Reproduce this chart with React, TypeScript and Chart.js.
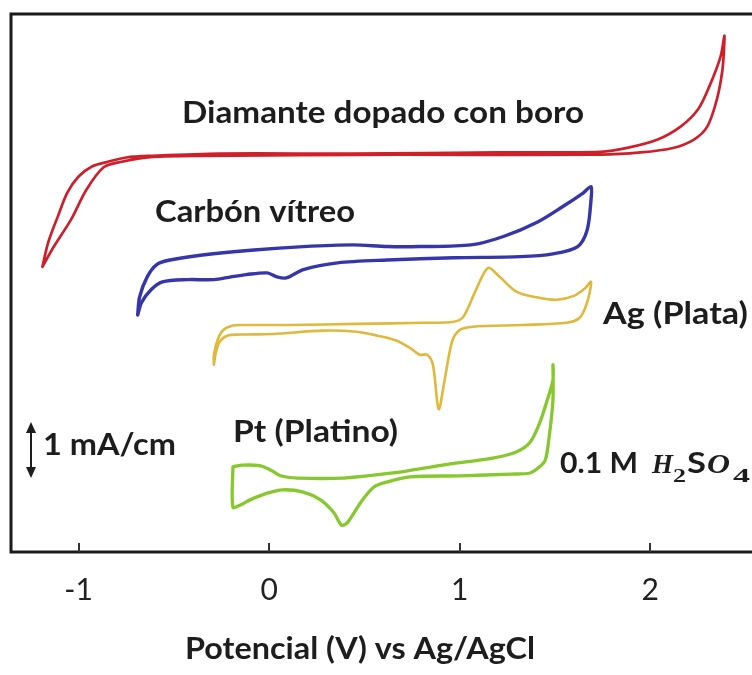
import React, { useEffect, useRef } from "react";
import { Chart, registerables } from "chart.js";

Chart.register(...registerables);

const WIDTH = 752;
const HEIGHT = 675;

// Potential in V vs Ag/AgCl, current in mA/cm; every loop carries its own vertical offset.
const bddPotential = [-1.19, -1.16, -1.11, -1.06, -1.0, -0.93, -0.85, -0.75, -0.61, -0.26, 0.43, 1.21, 1.74, 1.88, 2.04, 2.16, 2.25, 2.31, 2.37, 2.39, 2.39, 2.38, 2.35, 2.3, 2.23, 2.12, 1.95, 1.74, 0.69, -0.36, -0.61, -0.78, -0.87, -0.96, -1.04, -1.13, -1.19];
const bddCurrent = [5.09, 5.52, 5.98, 6.41, 6.7, 6.88, 6.96, 7.04, 7.07, 7.11, 7.11, 7.13, 7.14, 7.21, 7.36, 7.59, 7.89, 8.3, 8.84, 9.21, 9.11, 8.61, 8.07, 7.59, 7.36, 7.21, 7.13, 7.09, 7.09, 7.07, 7.05, 6.96, 6.86, 6.46, 5.93, 5.45, 5.09];

const gcPotential = [-0.69, -0.68, -0.64, -0.59, -0.52, -0.35, -0.08, 0.18, 0.44, 0.62, 0.79, 1.06, 1.23, 1.41, 1.54, 1.65, 1.69, 1.69, 1.67, 1.62, 1.49, 1.32, 0.97, 0.62, 0.36, 0.18, 0.09, 0.04, -0.01, -0.12, -0.2, -0.29, -0.43, -0.56, -0.62, -0.67, -0.69];
const gcCurrent = [4.23, 4.55, 4.91, 5.13, 5.21, 5.3, 5.39, 5.45, 5.48, 5.45, 5.45, 5.48, 5.63, 5.89, 6.16, 6.41, 6.52, 6.29, 5.75, 5.45, 5.32, 5.27, 5.25, 5.21, 5.16, 5.04, 4.89, 4.91, 4.98, 4.95, 4.91, 4.86, 4.86, 4.82, 4.68, 4.45, 4.23];

const agPotential = [-0.29, -0.29, -0.27, -0.24, -0.19, -0.14, 0.11, 0.46, 0.81, 0.97, 1.02, 1.09, 1.15, 1.21, 1.3, 1.41, 1.51, 1.6, 1.66, 1.69, 1.67, 1.63, 1.56, 1.33, 1.07, 1.0, 0.96, 0.92, 0.89, 0.86, 0.83, 0.79, 0.74, 0.67, 0.57, 0.46, 0.28, 0.02, -0.15, -0.22, -0.26, -0.28, -0.29];
const agCurrent = [3.34, 3.52, 3.79, 3.96, 4.04, 4.05, 4.05, 4.07, 4.09, 4.11, 4.2, 4.71, 5.07, 4.91, 4.64, 4.54, 4.5, 4.57, 4.71, 4.82, 4.46, 4.18, 4.09, 4.05, 4.02, 3.96, 3.75, 3.04, 2.55, 3.34, 3.52, 3.52, 3.64, 3.77, 3.86, 3.93, 3.95, 3.89, 3.88, 3.86, 3.75, 3.55, 3.34];

const ptPotential = [-0.19, -0.14, -0.05, 0.01, 0.06, 0.15, 0.39, 0.65, 0.91, 1.18, 1.3, 1.37, 1.42, 1.46, 1.49, 1.49, 1.49, 1.47, 1.45, 1.42, 1.37, 1.27, 1.0, 0.74, 0.62, 0.55, 0.48, 0.41, 0.38, 0.34, 0.27, 0.18, 0.07, -0.01, -0.1, -0.15, -0.19, -0.19];
const ptCurrent = [1.52, 1.55, 1.54, 1.46, 1.36, 1.32, 1.32, 1.41, 1.55, 1.68, 1.79, 1.96, 2.3, 2.71, 3.07, 3.34, 2.71, 2.05, 1.64, 1.52, 1.41, 1.39, 1.36, 1.34, 1.25, 1.16, 0.88, 0.52, 0.48, 0.7, 0.93, 1.07, 1.11, 1.05, 0.93, 0.84, 0.8, 1.52];

const seriesNames = ["Diamante dopado con boro", "Carbón vítreo", "Ag (Plata)", "Pt (Platino)"];
const potentialTicks = [-1, 0, 1, 2];
const axisTitle = "Potencial (V) vs Ag/AgCl";
const scaleBarLabel = "1 mA/cm";
const electrolyteLabel = "0.1 M";

// axis ranges
const X_MIN = -1.355;
const X_MAX = 2.535;
const Y_MIN = 0;
const Y_MAX = 9.6;
const SCALE_BAR_BASE = 1.32; // current where the 1 mA/cm bar starts

const PAD_LEFT = 11;
const PAD_TOP = 14;
const PLOT_BOTTOM = 552;

const SANS = "Lato, 'Open Sans', sans-serif";
const SERIF = "'Liberation Serif', 'DejaVu Serif', serif";
const LATO_CAP = 0.7165;
const SERIF_CAP = 0.662;
const INK = "#1d1d1d";

const series = [
  { name: seriesNames[0], potential: bddPotential, current: bddCurrent, color: "#cf1f2b", width: 2.7 },
  { name: seriesNames[1], potential: gcPotential, current: gcCurrent, color: "#3636aa", width: 3.4 },
  { name: seriesNames[2], potential: agPotential, current: agCurrent, color: "#dfb83c", width: 2.6 },
  { name: seriesNames[3], potential: ptPotential, current: ptCurrent, color: "#86c82e", width: 3.3 },
];

type TextSpec = {
  text: string;
  left: number;
  baseline: number;
  width: number;
  cap: number;
  style: string;
  family: string;
  capRatio: number;
};

const bold = (text: string, left: number, baseline: number, width: number, cap = 22): TextSpec => ({
  text, left, baseline, width, cap, style: "bold", family: SANS, capRatio: LATO_CAP,
});

const mathItalic = (text: string, left: number, baseline: number, width: number, cap: number): TextSpec => ({
  text, left, baseline, width, cap, style: "italic bold", family: SERIF, capRatio: SERIF_CAP,
});

const annotations: TextSpec[] = [
  bold(seriesNames[0], 182, 123, 402),
  bold(seriesNames[1], 155, 222, 200),
  bold(seriesNames[2], 603, 324, 145),
  bold(seriesNames[3], 233, 442, 165),
  bold(scaleBarLabel, 43, 455, 133),
  bold(electrolyteLabel, 560, 473, 78, 21),
  bold(axisTitle, 185, 659, 350),
  // H2SO4 in math italic
  mathItalic("H", 652, 473, 21, 18),
  { text: "2", left: 673, baseline: 482, width: 13, cap: 13, style: "bold", family: SERIF, capRatio: SERIF_CAP },
  bold("S", 687, 473, 19, 20),
  mathItalic("O", 707, 473, 23, 18),
  { text: "4", left: 733, baseline: 482, width: 17, cap: 13, style: "bold", family: SERIF, capRatio: SERIF_CAP },
];

function drawFitted(ctx: CanvasRenderingContext2D, s: TextSpec) {
  const size = s.cap / s.capRatio;
  ctx.font = `${s.style} ${size}px ${s.family}`;
  const natural = ctx.measureText(s.text).width || 1;
  ctx.save();
  ctx.translate(s.left, s.baseline);
  ctx.scale(s.width / natural, 1);
  ctx.textAlign = "left";
  ctx.textBaseline = "alphabetic";
  ctx.fillStyle = INK;
  ctx.fillText(s.text, 0, 0);
  ctx.restore();
}

const framePlugin = {
  id: "frameAndNotes",
  afterDatasetsDraw(chart: any) {
    const { ctx, chartArea } = chart;
    const xs = chart.scales.x;
    ctx.save();
    // open frame: top, left and bottom edges
    ctx.strokeStyle = "#1b1b1b";
    ctx.lineWidth = 3;
    ctx.lineJoin = "miter";
    ctx.beginPath();
    ctx.moveTo(chartArea.right, chartArea.top);
    ctx.lineTo(chartArea.left, chartArea.top);
    ctx.lineTo(chartArea.left, chartArea.bottom);
    ctx.lineTo(chartArea.right, chartArea.bottom);
    ctx.stroke();
    // inward tick marks
    ctx.lineWidth = 2;
    ctx.strokeStyle = "#333";
    xs.ticks.forEach((t: any) => {
      const px = Math.round(xs.getPixelForValue(t.value));
      ctx.beginPath();
      ctx.moveTo(px, chartArea.bottom);
      ctx.lineTo(px, chartArea.bottom - 9);
      ctx.stroke();
    });
    ctx.restore();
  },
  afterDraw(chart: any) {
    const { ctx } = chart;
    const ys = chart.scales.y;
    ctx.save();
    // 1 mA/cm scale bar
    const bx = 31;
    const yTop = ys.getPixelForValue(SCALE_BAR_BASE + 1);
    const yBot = ys.getPixelForValue(SCALE_BAR_BASE);
    const head = 11;
    ctx.strokeStyle = INK;
    ctx.fillStyle = INK;
    ctx.lineWidth = 2;
    ctx.beginPath();
    ctx.moveTo(bx, yTop + head - 2);
    ctx.lineTo(bx, yBot - head + 2);
    ctx.stroke();
    ctx.beginPath();
    ctx.moveTo(bx, yTop);
    ctx.lineTo(bx - 5, yTop + head);
    ctx.lineTo(bx + 5, yTop + head);
    ctx.closePath();
    ctx.fill();
    ctx.beginPath();
    ctx.moveTo(bx, yBot);
    ctx.lineTo(bx - 5, yBot - head);
    ctx.lineTo(bx + 5, yBot - head);
    ctx.closePath();
    ctx.fill();
    annotations.forEach((a) => drawFitted(ctx, a));
    ctx.restore();
  },
};

export default function App() {
  const canvasRef = useRef<HTMLCanvasElement | null>(null);

  useEffect(() => {
    const canvas = canvasRef.current;
    if (!canvas) return;
    const chart = new Chart(canvas, {
      type: "scatter",
      data: {
        datasets: series.map((s) => ({
          label: s.name,
          data: s.potential.map((x, i) => ({ x, y: s.current[i] })),
          showLine: true,
          borderColor: s.color,
          backgroundColor: s.color,
          borderWidth: s.width,
          borderJoinStyle: "round",
          borderCapStyle: "round",
          pointRadius: 0,
          pointHoverRadius: 0,
          tension: 0.3,
          fill: false,
        })),
      },
      options: {
        responsive: false,
        animation: false,
        devicePixelRatio: 1,
        events: [],
        layout: { padding: { left: PAD_LEFT, top: PAD_TOP, right: 0, bottom: 0 } },
        plugins: { legend: { display: false }, tooltip: { enabled: false }, title: { display: false } },
        scales: {
          x: {
            type: "linear",
            min: X_MIN,
            max: X_MAX,
            afterBuildTicks: (scale: any) => {
              scale.ticks = potentialTicks.map((v) => ({ value: v }));
            },
            afterFit: (scale: any) => {
              scale.height = HEIGHT - PLOT_BOTTOM;
            },
            grid: { display: false, drawTicks: false },
            border: { display: false },
            ticks: {
              font: { family: "Lato", size: 30 },
              color: "#222",
              padding: 20,
              autoSkip: false,
              maxRotation: 0,
              callback: (v: any) => String(v),
            },
          },
          y: { type: "linear", min: Y_MIN, max: Y_MAX, display: false },
        },
      },
      plugins: [framePlugin],
    } as any);
    return () => chart.destroy();
  }, []);

  return (
    <div style={{ position: "fixed", left: 0, top: 0, width: WIDTH, height: HEIGHT, background: "#fff" }}>
      <canvas ref={canvasRef} width={WIDTH} height={HEIGHT} style={{ display: "block" }} />
    </div>
  );
}
